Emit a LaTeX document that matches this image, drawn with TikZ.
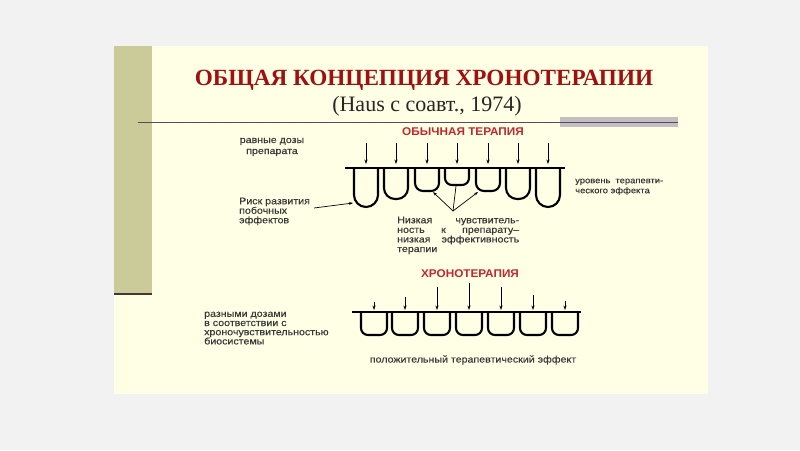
\documentclass[tikz,border=0pt]{standalone}
\usepackage{fontspec}
\setmainfont{Liberation Serif}
\newfontfamily\arialf[FakeStretch=1.12, FakeBold=0.35]{Liberation Sans}
\newfontfamily\arialh[FakeStretch=1.05]{Liberation Sans}
\usetikzlibrary{arrows.meta}
\definecolor{outerbg}{HTML}{F2F2F2}
\definecolor{slidebg}{HTML}{FFFFE6}
\definecolor{olive}{HTML}{CBCB9A}
\definecolor{titlered}{HTML}{A01010}
\definecolor{headred}{HTML}{C0282D}
\definecolor{bodygray}{HTML}{383838}
\definecolor{rulegray}{HTML}{5A4A5A}
\definecolor{bargray}{HTML}{C2BEC2}
\definecolor{bardark}{HTML}{4A3434}
\tikzset{
  body/.style={inner sep=0pt, text=bodygray, font=\arialf\fontsize{9.5}{10}\selectfont},
  head/.style={inner sep=0pt, text=headred, font=\arialh\bfseries\fontsize{11.2}{12}\selectfont},
  cup/.style={line width=2.1pt, line cap=round},
  level/.style={line width=1.1pt},
  dose/.style={line width=0.8pt, -{Stealth[length=4.5pt,width=3.2pt]}},
  pointer/.style={line width=0.7pt, -{Stealth[length=4pt,width=2.8pt]}}
}
\begin{document}
\begin{tikzpicture}[x=1pt,y=-1pt]
\useasboundingbox (0,0) rectangle (800,450);
\fill[outerbg] (0,0) rectangle (800,450);
\fill[slidebg] (114,46) rectangle (708,394);
\fill[olive] (114,46) rectangle (152,294);
\draw[line width=1.4pt, draw=bardark] (114,294) -- (152,294);
\fill[bargray] (560,117) rectangle (678,127);
\draw[rulegray, line width=0.9pt] (138,122) -- (678,122);

% titles
\node[inner sep=0pt, text=titlered, font=\bfseries\fontsize{23.2}{25}\selectfont] (title) at (424,80) {ОБЩАЯ КОНЦЕПЦИЯ ХРОНОТЕРАПИИ};
\node[inner sep=0pt, text=black!85, font=\fontsize{22}{25}\selectfont] (subtitle) at (427,106) {(Haus с соавт., 1974)};

% ---------- upper diagram ----------
\node[head] (usual) at (463,132) {ОБЫЧНАЯ ТЕРАПИЯ};
\node[body, align=center, font=\arialf\fontsize{9.5}{11}\selectfont, anchor=north] (equal) at (272,137.7) {равные дозы\\препарата};
\node[body, align=left, font=\arialf\fontsize{9.5}{9.5}\selectfont, anchor=north west] (risk) at (239,197.5) {Риск развития\\побочных\\эффектов};
\node[body, align=left, font=\arialf\fontsize{9.5}{9.6}\selectfont, anchor=north west] (low) at (397,216.5)
  {\hbox to 122pt{Низкая\hfill чувствитель-}\\\hbox to 122pt{ность\hfill к\hfill препарату–}\\\hbox to 122pt{низкая\hfill эффективность}\\терапии};
\node[body, align=left, font=\arialf\fontsize{8.4}{10}\selectfont, anchor=north west] (levelt) at (575,178.5)
  {\hbox to 88pt{уровень\hfill терапевти-}\\ческого эффекта};

\coordinate (l1) at (345,168);
\coordinate (l2) at (565,168);
\draw[level] (l1) -- (l2);

\foreach \i/\c/\b/\r in {1/366/207/12, 2/396/199/11, 3/427/191/8, 4/457/185/7, 5/488/191/8, 6/518/199/11, 7/548/207/12}{
  \draw[cup, rounded corners=\r pt] (\c-12,168) -- (\c-12,\b) -- (\c+12,\b) -- (\c+12,168);
  \coordinate (ua\i) at (\c,143);
  \coordinate (ub\i) at (\c,164);
  \draw[dose] (ua\i) -- (ub\i);
}
\coordinate (cup1) at (353,203);
\draw[pointer] (314,208) -- (cup1);
\coordinate (hub) at (453,211);
\coordinate (c3) at (433,192);
\coordinate (c4) at (456,186);
\coordinate (c5) at (478,192);
\draw[pointer] (hub) -- (c3);
\draw[line width=0.7pt] (hub) -- (c4);
\draw[pointer] (hub) -- (c5);

% ---------- lower diagram ----------
\node[head] (chrono) at (470,274) {ХРОНОТЕРАПИЯ};
\node[body, align=left, font=\arialf\fontsize{9.5}{9.2}\selectfont, anchor=north west] (vary) at (204,311.5)
  {разными дозами\\в соответствии с\\хроночувствительностью\\биосистемы};
\node[body] (positive) at (473,360) {положительный терапевтический эффект};

\coordinate (m1) at (352,312);
\coordinate (m2) at (581,312);
\draw[level] (m1) -- (m2);
\foreach \i/\c/\t in {1/374/302, 2/405/297, 3/437/287, 4/469/283, 5/501/287, 6/533/295, 7/565/301}{
  \draw[cup, rounded corners=7pt] (\c-13,312) -- (\c-13,335) -- (\c+13,335) -- (\c+13,312);
  \coordinate (la\i) at (\c,\t);
  \coordinate (lb\i) at (\c,310);
  \draw[dose] (la\i) -- (lb\i);
}
\end{tikzpicture}
\end{document}
